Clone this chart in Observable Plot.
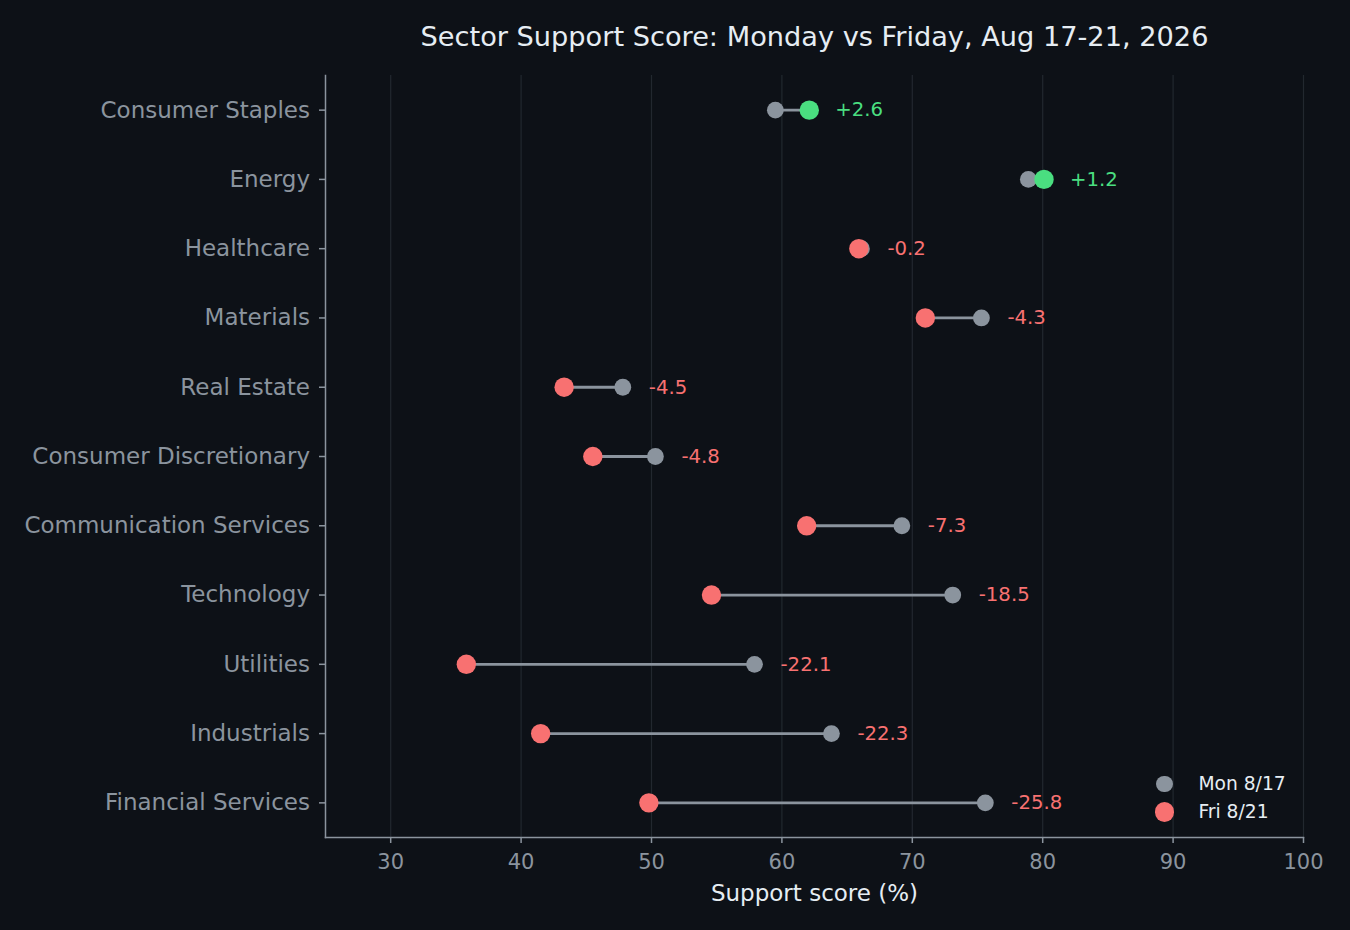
<!DOCTYPE html>
<html>
<head>
<meta charset="utf-8">
<script src="https://cdn.jsdelivr.net/npm/d3@7"></script>
<script src="https://cdn.jsdelivr.net/npm/@observablehq/plot@0.6"></script>
<style>
  html, body { margin: 0; padding: 0; background: #0d1117; }
  #wrap { position: relative; width: 1350px; height: 930px; background: #0d1117; font-family: "DejaVu Sans", sans-serif; }
  #legend { position: absolute; left: 1155px; top: 770px; color: #e6edf3; font-size: 18.7px; line-height: 28px; }
  #legend .item { display: flex; align-items: center; }
  #legend .sw { display: inline-block; border-radius: 50%; }
</style>
</head>
<body>
<div id="wrap"></div>
<script>
const title = "Sector Support Score: Monday vs Friday, Aug 17-21, 2026";
const xLabel = "Support score (%)";
const sectors = [
  "Consumer Staples", "Energy", "Healthcare", "Materials", "Real Estate",
  "Consumer Discretionary", "Communication Services", "Technology",
  "Utilities", "Industrials", "Financial Services"
];
const monday = [59.5, 78.9, 66.1, 75.3, 47.8, 50.3, 69.2, 73.1, 57.9, 63.8, 75.6];
const friday = [62.1, 80.1, 65.9, 71.0, 43.3, 45.5, 61.9, 54.6, 35.8, 41.5, 49.8];
const xTicks = [30, 40, 50, 60, 70, 80, 90, 100];
const seriesNames = ["Mon 8/17", "Fri 8/21"];

const GRAY = "#8b949e";
const RED = "#f87171";
const GREEN = "#4ade80";
const TEXT = "#e6edf3";

const data = sectors.map((s, i) => {
  const diff = Math.round((friday[i] - monday[i]) * 10) / 10;
  return {
    sector: s, mon: monday[i], fri: friday[i], diff,
    max: Math.max(monday[i], friday[i]),
    label: (diff > 0 ? "+" : "") + diff.toFixed(1),
    color: diff > 0 ? GREEN : RED
  };
});

const chart = Plot.plot({
  width: 1350,
  height: 930,
  marginLeft: 325,
  marginRight: 47,
  marginTop: 75,
  marginBottom: 93,
  style: { background: "#0d1117", fontFamily: "DejaVu Sans, sans-serif", overflow: "visible" },
  x: { domain: [25, 100], label: null },
  y: { domain: sectors, label: null, padding: 0.5, round: false },
  marks: [
    Plot.gridX(xTicks, { stroke: "#22282f", strokeOpacity: 1, strokeWidth: 1.2 }),
    Plot.frame({ anchor: "left", stroke: GRAY, strokeWidth: 1.5 }),
    Plot.frame({ anchor: "bottom", stroke: GRAY, strokeWidth: 1.5 }),
    Plot.axisX(xTicks, { tickSize: 6, tickPadding: 11, fontSize: 21, color: GRAY, stroke: GRAY, strokeWidth: 1.5, label: null }),
    Plot.axisY({ tickSize: 6, tickPadding: 9.5, fontSize: 23, color: GRAY, stroke: GRAY, strokeWidth: 1.5, label: null }),
    Plot.link(data, { x1: "mon", x2: "fri", y1: "sector", y2: "sector", stroke: GRAY, strokeWidth: 2.8 }),
    Plot.dot(data, { x: "mon", y: "sector", r: 8.4, fill: GRAY }),
    Plot.dot(data, { x: "fri", y: "sector", r: 9.7, fill: d => d.color }),
    Plot.text(data, { x: "max", y: "sector", text: "label", dx: 26, textAnchor: "start", fill: d => d.color, fontSize: 19.7 }),
    Plot.text([title], { frameAnchor: "top", lineAnchor: "middle", dy: -38, fill: TEXT, fontSize: 27.2 }),
    Plot.text([xLabel], { frameAnchor: "bottom", lineAnchor: "middle", dy: 56, fill: TEXT, fontSize: 23 })
  ]
});

const wrap = document.getElementById("wrap");
wrap.appendChild(chart);

const legend = document.createElement("div");
legend.id = "legend";
const legendItems = [
  { name: seriesNames[0], color: GRAY, r: 8.4 },
  { name: seriesNames[1], color: RED, r: 9.7 }
];
for (const it of legendItems) {
  const row = document.createElement("div");
  row.className = "item";
  const sw = document.createElement("span");
  sw.className = "sw";
  sw.style.width = (it.r * 2) + "px";
  sw.style.height = (it.r * 2) + "px";
  sw.style.background = it.color;
  sw.style.marginLeft = (9.7 - it.r) + "px";
  sw.style.marginRight = (24 + 9.7 - it.r) + "px";
  const t = document.createElement("span");
  t.textContent = it.name;
  row.appendChild(sw);
  row.appendChild(t);
  legend.appendChild(row);
}
wrap.appendChild(legend);
</script>
</body>
</html>
